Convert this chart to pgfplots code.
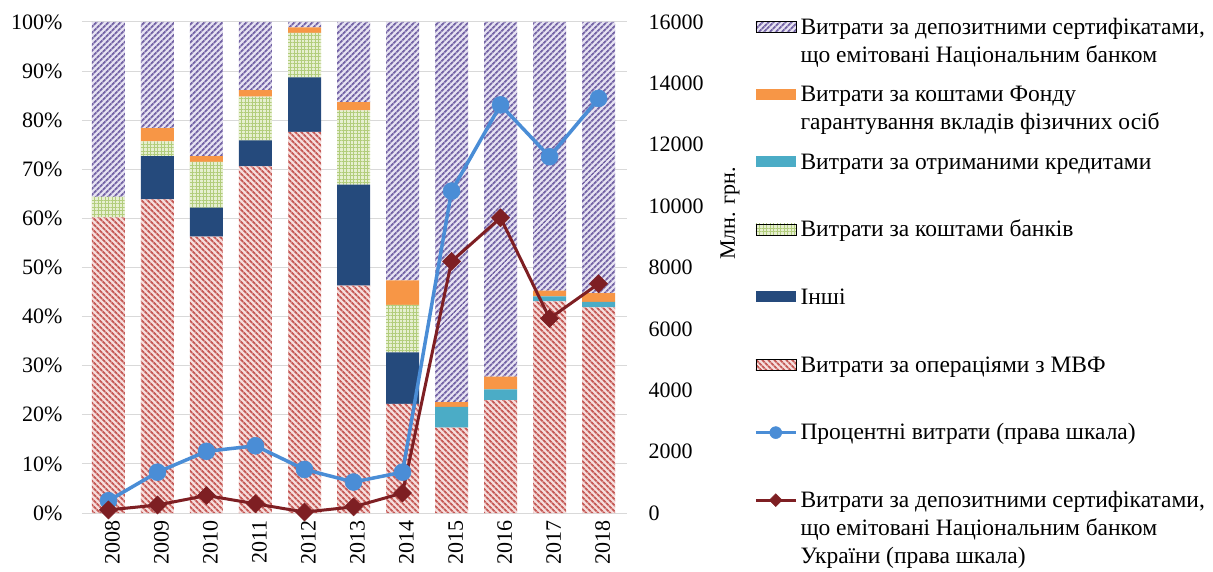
\documentclass[border=0pt]{standalone}
\usepackage{fontspec}
\setmainfont{Liberation Serif}
\usepackage{pgfplots}
\pgfplotsset{compat=1.18}
\usetikzlibrary{patterns.meta}

\definecolor{purpL}{HTML}{7565A6}
\definecolor{purpBG}{HTML}{E7E3F2}
\definecolor{redL}{HTML}{C55A56}
\definecolor{redBG}{HTML}{F6DEDD}
\definecolor{grnL}{HTML}{B2CD7C}
\definecolor{grnBG}{HTML}{E6EFD0}
\definecolor{orngC}{HTML}{F79646}
\definecolor{credC}{HTML}{4BACC6}
\definecolor{navyC}{HTML}{254A7C}
\definecolor{lineB}{HTML}{4A8DD6}
\definecolor{lineR}{HTML}{7E1F23}
\definecolor{gridC}{HTML}{D9D9D9}

\tikzset{
  purpbar/.style={fill=purpBG, draw=none, postaction={pattern={Lines[angle=45,distance=4pt,line width=2pt]}, pattern color=purpL}},
  redbar/.style={fill=redBG, draw=none, postaction={pattern={Lines[angle=-45,distance=4pt,line width=2pt]}, pattern color=redL}},
  grnbar/.style={fill=grnBG, draw=none, postaction={pattern={Hatch[distance=3.5pt,line width=0.9pt]}, pattern color=grnL}},
  orngbar/.style={fill=orngC, draw=none},
  credbar/.style={fill=credC, draw=none},
  navybar/.style={fill=navyC, draw=none},
}
\pgfplotsset{
  linelegend/.style={legend image code/.code={\draw[##1, mark size=#1, mark repeat=2, mark phase=2] plot coordinates {(0pt,7pt) (20pt,7pt) (40pt,7pt)};}},
  barlegend/.style={legend image code/.code={\fill[#1] (0pt,2pt) rectangle (40pt,13pt);}},
}
\newcommand{\legtxt}[1]{\parbox[t]{440pt}{\strut #1}}

\begin{document}
\fontsize{22}{28}\selectfont
\begin{tikzpicture}[font=\fontsize{22}{28}\selectfont]
\path[use as bounding box] (-82pt,-58pt) rectangle (1131pt,513pt);
\begin{axis}[
  at={(0,0)}, anchor=south west,
  scale only axis, width=545pt, height=491pt,
  ybar stacked, bar width=33pt,
  xmin=-0.54, xmax=10.58, ymin=0, ymax=100,
  xtick={0,1,2,3,4,5,6,7,8,9,10},
  xticklabels={2008,2009,2010,2011,2012,2013,2014,2015,2016,2017,2018},
  xticklabel style={rotate=90, anchor=east, yshift=-4pt},
  ytick={0,10,20,30,40,50,60,70,80,90,100},
  yticklabel={\pgfmathprintnumber{\tick}\%},
  yticklabel style={xshift=-12pt},
  ymajorgrids, grid style={gridC, line width=1pt},
  axis line style={draw=none}, major tick length=0pt,
  /pgf/number format/assume math mode=true,
  tick label style={font=\fontsize{22}{26}\selectfont},
]
% Витрати за операціями з МВФ
\addplot[redbar] coordinates {(0,60.2) (1,63.9) (2,56.3) (3,70.6) (4,77.6) (5,46.3) (6,22.2) (7,17.4) (8,23.0) (9,43.1) (10,41.9)};
% Інші
\addplot[navybar] coordinates {(0,0) (1,8.8) (2,5.9) (3,5.3) (4,11.1) (5,20.6) (6,10.5) (7,0) (8,0) (9,0) (10,0)};
% Витрати за коштами банків
\addplot[grnbar] coordinates {(0,4.2) (1,3.0) (2,9.3) (3,8.9) (4,9.1) (5,15.1) (6,9.7) (7,0) (8,0) (9,0) (10,0)};
% Витрати за отриманими кредитами
\addplot[credbar] coordinates {(0,0) (1,0) (2,0) (3,0) (4,0) (5,0) (6,0) (7,4.2) (8,2.2) (9,1.0) (10,1.1)};
% Фонд гарантування
\addplot[orngbar] coordinates {(0,0) (1,2.7) (2,1.2) (3,1.3) (4,1.1) (5,1.7) (6,5.0) (7,1.0) (8,2.6) (9,1.2) (10,1.8)};
% Депозитні сертифікати
\addplot[purpbar] coordinates {(0,35.6) (1,21.6) (2,27.3) (3,13.9) (4,1.1) (5,16.3) (6,52.6) (7,77.4) (8,72.2) (9,54.7) (10,55.2)};
\end{axis}

\begin{axis}[
  at={(0,0)}, anchor=south west,
  scale only axis, width=545pt, height=491pt,
  xmin=-0.54, xmax=10.58, ymin=0, ymax=16000,
  hide x axis,
  ytick={0,2000,4000,6000,8000,10000,12000,14000,16000},
  yticklabel pos=right,
  yticklabel style={xshift=14pt},
  scaled y ticks=false,
  /pgf/number format/1000 sep={},
  /pgf/number format/assume math mode=true,
  axis line style={draw=none}, major tick length=0pt,
  tick label style={font=\fontsize{22}{26}\selectfont},
  ylabel={Млн. грн.},
  every axis y label/.style={at={(rel axis cs:1,0.61)}, xshift=103pt, rotate=90, anchor=center, font=\fontsize{22}{26}\selectfont},
  legend style={at={(rel axis cs:1,1)}, anchor=north west, xshift=127pt, yshift=8pt,
    draw=none, fill=none, inner sep=0pt, outer sep=0pt,
    nodes={inner sep=0pt, outer sep=0pt, text height=20pt, text depth=47.6pt},
    cells={anchor=base west},
    row sep=0pt,
    /tikz/every odd column/.style={column sep=3pt},
    font=\fontsize{23.5}{28}\selectfont},
]
\addlegendimage{barlegend=purpbar}
\addlegendentry{\legtxt{Витрати за депозитними сертифікатами,\\що емітовані Національним банком}}
\addlegendimage{barlegend=orngbar}
\addlegendentry{\legtxt{Витрати за коштами Фонду\\гарантування вкладів фізичних осіб}}
\addlegendimage{barlegend=credbar}
\addlegendentry{\legtxt{Витрати за отриманими кредитами}}
\addlegendimage{barlegend=grnbar}
\addlegendentry{\legtxt{Витрати за коштами банків}}
\addlegendimage{barlegend=navybar}
\addlegendentry{\legtxt{Інші}}
\addlegendimage{barlegend=redbar}
\addlegendentry{\legtxt{Витрати за операціями з МВФ}}

\addplot[lineB, line width=3.5pt, mark=*, mark size=8.5pt, mark options={fill=lineB, draw=lineB, line width=0.5pt}, linelegend=6pt]
  coordinates {(0,400) (1,1330) (2,2010) (3,2190) (4,1420) (5,1010) (6,1330) (7,10490) (8,13300) (9,11610) (10,13510)};
\addlegendentry{\legtxt{Процентні витрати (права шкала)}}

\addplot[lineR, line width=3pt, mark=square*, mark size=6.4pt, mark options={rotate=45, fill=lineR, draw=lineR, line width=0.5pt}, linelegend=4.5pt]
  coordinates {(0,100) (1,260) (2,570) (3,300) (4,30) (5,200) (6,650) (7,8200) (8,9620) (9,6340) (10,7470)};
\addlegendentry{\legtxt{Витрати за депозитними сертифікатами,\\що емітовані Національним банком\\України (права шкала)}}
\end{axis}
\end{tikzpicture}
\end{document}
